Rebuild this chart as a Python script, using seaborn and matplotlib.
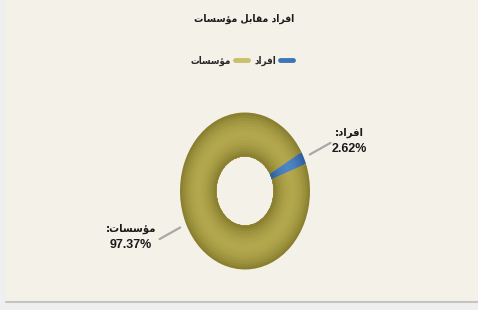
import numpy as np
import matplotlib
matplotlib.use("Agg")
import matplotlib.pyplot as plt
import matplotlib.colors as mcolors
from matplotlib.patches import Rectangle
from matplotlib.lines import Line2D
import seaborn as sns

# Arabic strings written in visual order with presentation forms,
# because matplotlib does no Arabic shaping / bidi on its own
title_text = "\uFE95\uFE8E\uFEB4\uFEB3\uFE86\uFEE3 \uFEDE\uFE91\uFE8E\uFED8\uFEE3 \uFEA9\uFE8D\uFEAE\uFED3\uFE8D"
categories = ["\uFEA9\uFE8D\uFEAE\uFED3\uFE8D",               # افراد
              "\uFE95\uFE8E\uFEB4\uFEB3\uFE86\uFEE3"]         # مؤسسات
shares = [2.62, 97.37]
edge_colors = ["#2b5b97", "#857b2c"]
mid_colors = ["#4c84c4", "#b2a74d"]
legend_colors = ["#3f75b5", "#c9bf6e"]

sns.set_style("white")
plt.rcParams["font.family"] = ["Liberation Sans", "DejaVu Sans"]
arabic = dict(family=["DejaVu Sans Condensed", "DejaVu Sans"], stretch="condensed")

fig = plt.figure(figsize=(4.78, 3.10), dpi=100)
fig.patch.set_facecolor("#efefef")
# chart panel
fig.add_artist(Rectangle((6 / 478, 8 / 310), 472 / 478, 302 / 310, transform=fig.transFigure,
                         facecolor="#f4f1e9", edgecolor="none", zorder=0))
fig.add_artist(Line2D([6 / 478, 1], [8 / 310, 8 / 310], transform=fig.transFigure,
                      color="#c4c4c0", lw=1.5, zorder=1))

# donut axes sized so the ring comes out as a slightly tall ellipse
ax = fig.add_axes([180 / 478, 40.5 / 310, 130 / 478, 157 / 310])
ax.set_facecolor("none")

start = 25 - 360 * shares[0] / sum(shares) / 2
inner, outer = 0.44, 1.0
n_bands = 16
# outer bands first, each one reaching down to the hole, so no seams show
for i in reversed(range(n_bands)):
    r1 = inner + (outer - inner) * (i + 1) / n_bands
    t = (i + 0.5) / n_bands
    k = np.sin(np.pi * t) ** 0.9
    cols = [mcolors.to_hex(np.array(mcolors.to_rgb(e)) * (1 - k) + np.array(mcolors.to_rgb(m)) * k)
            for e, m in zip(edge_colors, mid_colors)]
    ax.pie(shares, colors=cols, radius=r1, startangle=start, counterclock=True,
           wedgeprops=dict(width=r1 - inner, edgecolor="none", linewidth=0))

ax.set_aspect("auto")
ax.set_xlim(-1, 1)
ax.set_ylim(-1, 1)
ax.axis("off")

# leader lines and data labels at the middle of each wedge
total = sum(shares)
acc = start
for name, val in zip(categories, shares):
    mid = np.deg2rad(acc + 360 * val / total / 2)
    acc += 360 * val / total
    c, s = np.cos(mid), np.sin(mid)
    x0, y0 = 1.1 * c, 1.1 * s
    x1, y1 = 1.45 * c, 1.45 * s
    ax.plot([x0, x1], [y0, y1], color="#a8a8a8", lw=1.6, clip_on=False)
    if c >= 0:
        xt = x1 + 0.29
    else:
        xt = x1 - 0.44
    ax.text(xt, y1 + 0.13, ":" + name, ha="center", va="center", fontsize=8,
            fontweight="bold", color="#1a1a1a", clip_on=False, **arabic)
    ax.text(xt, y1 - 0.08, f"{val:.2f}%", ha="center", va="center", fontsize=9,
            fontweight="bold", color="#1a1a1a", clip_on=False)

fig.text(244 / 478, 1 - 19 / 310, title_text, ha="center", va="center",
         fontsize=7.5, fontweight="bold", color="#1a1a1a", **arabic)

handles = [Line2D([], [], color=legend_colors[1], lw=3.5),
           Line2D([], [], color=legend_colors[0], lw=3.5)]
leg = fig.legend(handles, [categories[1], categories[0]], loc="center",
                 bbox_to_anchor=(242 / 478, 1 - 61 / 310), ncol=2, frameon=False,
                 markerfirst=False, handlelength=1.4, handletextpad=0.4, columnspacing=0.6,
                 prop=dict(size=7, weight="bold", **arabic))

fig.savefig("out.png", dpi=100, facecolor=fig.get_facecolor())
